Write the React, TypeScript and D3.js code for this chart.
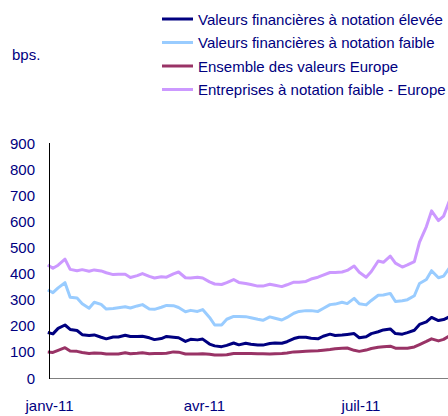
import React, { useRef, useEffect } from "react";
import * as d3 from "d3";

// twice-weekly observations, Dec 2010 - Aug 2011
const dates = [
  "2010-12-31", "2011-01-03", "2011-01-06", "2011-01-10", "2011-01-13", "2011-01-17", "2011-01-20",
  "2011-01-24", "2011-01-27", "2011-01-31", "2011-02-03", "2011-02-07", "2011-02-10", "2011-02-14",
  "2011-02-17", "2011-02-21", "2011-02-24", "2011-02-28", "2011-03-03", "2011-03-07", "2011-03-10",
  "2011-03-14", "2011-03-17", "2011-03-21", "2011-03-24", "2011-03-28", "2011-03-31", "2011-04-04",
  "2011-04-07", "2011-04-11", "2011-04-14", "2011-04-18", "2011-04-21", "2011-04-25", "2011-04-28",
  "2011-05-02", "2011-05-05", "2011-05-09", "2011-05-12", "2011-05-16", "2011-05-19", "2011-05-23",
  "2011-05-26", "2011-05-30", "2011-06-02", "2011-06-06", "2011-06-09", "2011-06-13", "2011-06-16",
  "2011-06-20", "2011-06-23", "2011-06-27", "2011-06-30", "2011-07-04", "2011-07-07", "2011-07-11",
  "2011-07-14", "2011-07-18", "2011-07-21", "2011-07-25", "2011-07-28", "2011-08-01", "2011-08-04",
  "2011-08-08", "2011-08-11", "2011-08-15", "2011-08-18", "2011-08-22",
];

const financieresElevee = [
  174, 169, 190, 203, 186, 182, 166, 163, 165, 156, 150, 157, 157, 164, 159, 159, 160, 154, 147, 151,
  159, 156, 154, 140, 148, 146, 149, 130, 123, 120, 125, 134, 127, 133, 129, 126, 126, 132, 134, 133,
  139, 151, 156, 156, 152, 150, 160, 168, 163, 165, 167, 170, 154, 158, 170, 177, 184, 188, 170, 168,
  174, 183, 205, 215, 232, 220, 224, 236,
];

const financieresFaible = [
  337, 327, 345, 365, 309, 306, 284, 267, 290, 282, 264, 266, 269, 273, 268, 276, 281, 264, 263, 271,
  278, 277, 270, 254, 259, 255, 262, 232, 203, 203, 225, 236, 236, 235, 231, 225, 221, 234, 229, 222,
  232, 248, 255, 258, 258, 255, 266, 281, 283, 290, 285, 305, 284, 280, 297, 317, 318, 324, 293, 296,
  300, 315, 362, 377, 411, 384, 390, 428,
];

const ensembleEurope = [
  100, 98, 106, 116, 103, 102, 98, 94, 96, 95, 92, 92, 92, 97, 93, 95, 97, 93, 94, 94,
  95, 100, 99, 92, 92, 92, 93, 91, 88, 88, 89, 94, 94, 94, 94, 93, 93, 92, 93, 94,
  96, 100, 101, 102, 103, 104, 106, 109, 112, 114, 115, 106, 102, 107, 113, 118, 120, 122, 114, 114,
  114, 119, 128, 140, 150, 142, 148, 164,
];

const entreprisesFaible = [
  433, 420, 432, 455, 416, 411, 415, 409, 414, 410, 403, 396, 397, 397, 385, 392, 400, 389, 383, 388,
  386, 399, 406, 384, 383, 386, 383, 368, 360, 358, 365, 377, 366, 362, 358, 352, 352, 359, 355, 350,
  357, 367, 367, 370, 379, 386, 394, 404, 404, 406, 412, 429, 405, 386, 408, 448, 443, 467, 440, 425,
  433, 446, 520, 580, 640, 603, 620, 690,
];

const seriesNames = [
  "Valeurs financières à notation élevée",
  "Valeurs financières à notation faible",
  "Ensemble des valeurs Europe",
  "Entreprises à notation faible - Europe",
];
const seriesColors = ["#000080", "#99ccff", "#993366", "#cc99ff"];
const yTicks = [0, 100, 200, 300, 400, 500, 600, 700, 800, 900];
const xTicks = ["2011-01-01", "2011-04-01", "2011-07-01"];
const monthLabels = ["janv", "févr", "mars", "avr", "mai", "juin", "juil", "août", "sept", "oct", "nov", "déc"];

const FONT = "'Liberation Sans', Arial, sans-serif";
const TEXT = "#000080";

export default function App() {
  const svgRef = useRef<SVGSVGElement>(null);

  useEffect(() => {
    if (!svgRef.current) return;
    const svg = d3.select(svgRef.current);
    svg.selectAll("*").remove();

    const width = 448;
    const height = 416;
    const left = 49;
    const top = 143;
    const bottom = 378;

    svg.attr("width", width).attr("height", height);
    svg.append("rect").attr("width", width).attr("height", height).attr("fill", "#fff");

    const parse = d3.timeParse("%Y-%m-%d");
    const days = dates.map((d) => parse(d) as Date);

    const x = d3
      .scaleTime()
      .domain([parse("2011-01-01") as Date, parse("2011-07-01") as Date])
      .range([left + 0.5, 361]);
    const y = d3.scaleLinear().domain([0, 900]).range([bottom, top]);

    const all = [financieresElevee, financieresFaible, ensembleEurope, entreprisesFaible];

    // lines
    const line = d3
      .line<number>()
      .x((_, i) => x(days[i]))
      .y((d) => y(d));

    all.forEach((vals, si) => {
      svg
        .append("path")
        .datum(vals)
        .attr("fill", "none")
        .attr("stroke", seriesColors[si])
        .attr("stroke-width", 3)
        .attr("stroke-linejoin", "round")
        .attr("d", line);
    });

    // axes
    svg
      .append("line")
      .attr("x1", left)
      .attr("x2", width)
      .attr("y1", bottom + 0.5)
      .attr("y2", bottom + 0.5)
      .attr("stroke", "#808080")
      .attr("stroke-width", 1);
    svg
      .append("line")
      .attr("x1", left + 0.5)
      .attr("x2", left + 0.5)
      .attr("y1", top)
      .attr("y2", bottom + 1)
      .attr("stroke", "#000")
      .attr("stroke-width", 1);

    svg
      .append("g")
      .selectAll("text")
      .data(yTicks)
      .enter()
      .append("text")
      .attr("x", 35)
      .attr("y", (d) => y(d) + 5.5)
      .attr("text-anchor", "end")
      .attr("fill", TEXT)
      .attr("font-size", "15px")
      .attr("font-family", FONT)
      .text((d) => d);

    svg
      .append("g")
      .selectAll("text")
      .data(xTicks)
      .enter()
      .append("text")
      .attr("x", (d) => x(parse(d) as Date))
      .attr("y", 411)
      .attr("text-anchor", "middle")
      .attr("fill", TEXT)
      .attr("font-size", "15px")
      .attr("font-family", FONT)
      .text((d) => {
        const dt = parse(d) as Date;
        return `${monthLabels[dt.getMonth()]}-${d3.timeFormat("%y")(dt)}`;
      });

    svg
      .append("text")
      .attr("x", 12)
      .attr("y", 60)
      .attr("fill", TEXT)
      .attr("font-size", "15px")
      .attr("font-family", FONT)
      .text("bps.");

    // legend
    const legend = svg.append("g").attr("transform", "translate(162, 19)");
    seriesNames.forEach((name, i) => {
      legend
        .append("line")
        .attr("x1", 0)
        .attr("x2", 31)
        .attr("y1", i * 23.5)
        .attr("y2", i * 23.5)
        .attr("stroke", seriesColors[i])
        .attr("stroke-width", 3);
      legend
        .append("text")
        .attr("x", 36)
        .attr("y", i * 23.5 + 5.5)
        .attr("fill", TEXT)
        .attr("font-size", "15px")
        .attr("font-family", FONT)
        .text(name);
    });
  }, []);

  return (
    <svg
      ref={svgRef}
      style={{ position: "absolute", left: 0, top: 0, display: "block", overflow: "hidden" }}
    />
  );
}
